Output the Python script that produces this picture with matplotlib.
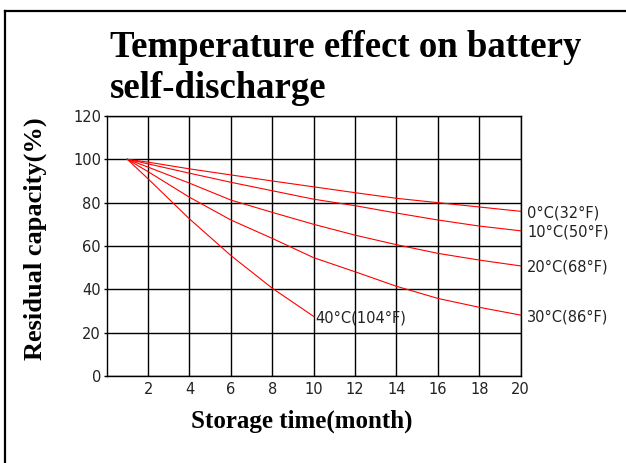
import numpy as np
from matplotlib import pyplot as plt
from matplotlib.lines import Line2D

# storage time (month) and residual capacity (%)
months = [1, 2, 4, 6, 8, 10, 12, 14, 16, 18, 20]
cap_0c = [100, 98.7, 95.6, 92.8, 90.0, 87.3, 84.6, 82.0, 80.0, 78.0, 76.0]
cap_10c = [100, 97.9, 93.6, 89.4, 85.5, 81.6, 78.6, 75.2, 72.0, 69.2, 67.0]
cap_20c = [100, 96.4, 89.0, 81.2, 75.5, 70.0, 65.0, 60.6, 56.6, 53.5, 50.8]
cap_30c = [100, 94.3, 82.5, 72.0, 63.5, 54.6, 48.1, 41.4, 35.8, 31.7, 28.1]
months_40c = [1, 2, 4, 6, 8, 10]
cap_40c = [100, 91.0, 72.5, 55.6, 40.5, 27.5]

labels = ['0°C(32°F)', '10°C(50°F)', '20°C(68°F)', '30°C(86°F)', '40°C(104°F)']
x_ticks = [2, 4, 6, 8, 10, 12, 14, 16, 18, 20]
y_ticks = [0, 20, 40, 60, 80, 100, 120]
title_lines = ['Temperature effect on battery', 'self-discharge']

TICK_FONT = dict(family='DejaVu Sans', size=10.5, color='#222222')
BOLD_SERIF = dict(family='Liberation Serif', weight='bold', color='black')

fig = plt.figure(figsize=(6.26, 4.63), dpi=100)
ax = fig.add_axes([0.1704, 0.1879, 0.6614, 0.5616])

series = [(months, cap_0c), (months, cap_10c), (months, cap_20c),
          (months, cap_30c), (months_40c, cap_40c)]
for (xs, ys), lab in zip(series, labels):
    ax.plot(xs, ys, color='red', lw=0.8)
    off = 1.5 if lab.startswith('40') else 4.5
    ax.annotate(lab, (xs[-1], ys[-1]), xytext=(off, -1), textcoords='offset points',
                ha='left', va='center', annotation_clip=False, **TICK_FONT)

ax.set_xlim(0, 20)
ax.set_ylim(0, 120)
ax.set_xticks(x_ticks)
ax.set_yticks(y_ticks)
ax.set_xticklabels([str(t) for t in x_ticks], fontdict=TICK_FONT)
ax.set_yticklabels([str(t) for t in y_ticks], fontdict=TICK_FONT)
ax.tick_params(axis='x', length=0, pad=4)
ax.tick_params(axis='y', length=2.5, width=1.0, pad=1.5)
ax.grid(True, color='black', lw=1.0)
for sp in ax.spines.values():
    sp.set_linewidth(1.0)
ax.set_axisbelow(True)

ax.set_xlabel('Storage time(month)', fontsize=18, **BOLD_SERIF)
ax.xaxis.set_label_coords(0.47, -0.13)
ax.set_ylabel('Residual capacity(%)', fontsize=19, **BOLD_SERIF)
ax.yaxis.set_label_coords(-0.145, 0.53)

# two-line title, baselines placed separately
fig.text(110 / 626, 1 - 57 / 463, title_lines[0], ha='left', va='baseline',
         fontsize=26.5, **BOLD_SERIF)
fig.text(110 / 626, 1 - 98 / 463, title_lines[1], ha='left', va='baseline',
         fontsize=26.5, **BOLD_SERIF)

# page frame (only left and top edges are visible)
fig.add_artist(Line2D([4.5 / 626, 4.5 / 626], [0, 1 - 10.5 / 463], color='black', lw=1.6))
fig.add_artist(Line2D([4.5 / 626, 1], [1 - 10.5 / 463, 1 - 10.5 / 463], color='black', lw=1.6))

fig.savefig('out.png', dpi=100)
